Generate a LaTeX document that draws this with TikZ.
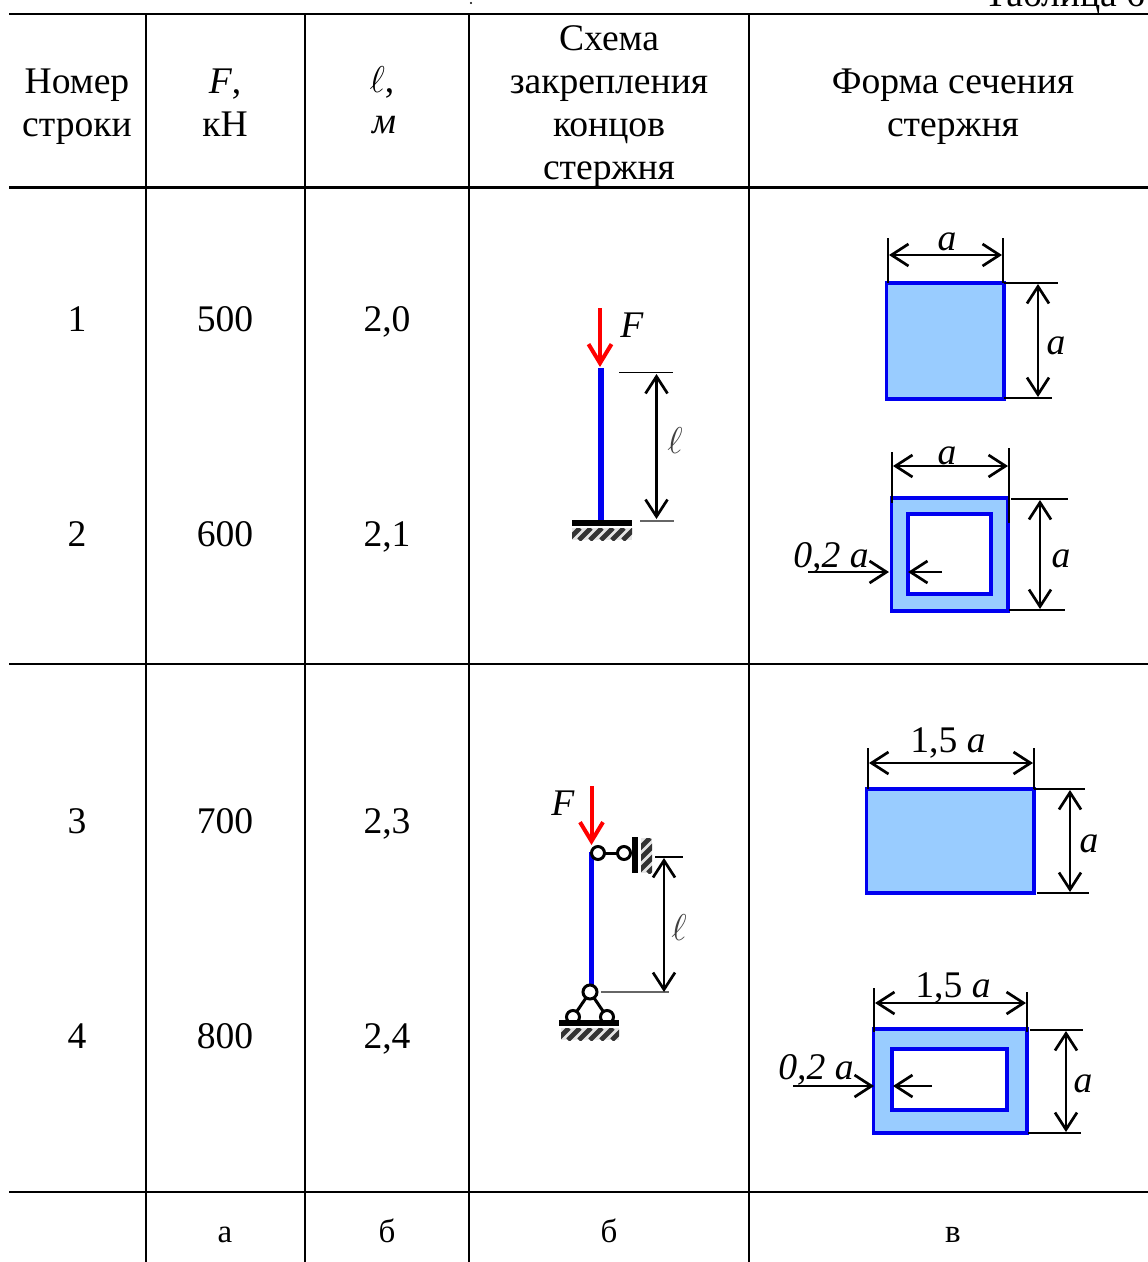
\documentclass[tikz,border=0pt]{standalone}
\usepackage{fontspec}
\setmainfont{Liberation Serif}
\usetikzlibrary{arrows.meta}
\definecolor{secfill}{HTML}{99CCFF}
\definecolor{barblue}{HTML}{0000F0}
\definecolor{forcered}{HTML}{FF0000}
\tikzset{
  x=1pt,y=-1pt,
  txt/.style={anchor=base,inner sep=0pt,outer sep=0pt,font=\fontsize{37.6}{44}\selectfont},
  grid/.style={line width=2.2pt,black},
  dima/.style={line width=2.7pt,black,{Straight Barb[length=17pt,width=22pt]}-{Straight Barb[length=17pt,width=22pt]}},
  onea/.style={line width=2.7pt,black,-{Straight Barb[length=17pt,width=22pt]}},
  ext/.style={line width=1.6pt,black},
  extg/.style={line width=1.4pt,black!60},
  force/.style={line width=4pt,forcered,-{Straight Barb[length=19pt,width=23pt]}},
  bar/.style={line width=6pt,barblue},
  sec/.style={draw=barblue,line width=3.5pt,fill=secfill},
  hole/.style={draw=barblue,line width=4pt,fill=white},
  pin/.style={circle,draw=black,line width=3pt,fill=white,minimum size=14pt,inner sep=0pt},
  lnk/.style={line width=3pt,black},
  ellmark/.style={txt,text=black!75},
}
\newcommand{\hatchbox}[4]{%
  \begin{scope}
    \clip (#1,#2) rectangle (#3,#4);
    \fill[black!10] (#1,#2) rectangle (#3,#4);
    \foreach \k in {-48,-37,...,84}{
      \draw[line width=4.8pt,black!80] ({#1+\k},#4) -- ({#1+\k+(#4-#2)},#2);
    }
  \end{scope}}
\begin{document}
\begin{tikzpicture}
\useasboundingbox (0,0) rectangle (1148,1262);
\clip (0,0) rectangle (1148,1262);
% grid
\draw[grid,line width=2.6pt] (9,14) -- (1148,14);
\draw[grid] (9,187.5) -- (1148,187.5);
\draw[grid] (9,664) -- (1148,664);
\draw[grid] (9,1192) -- (1148,1192);
\foreach \x in {146,305,469,749}{\draw[grid] (\x,14) -- (\x,1262);}
\fill (471,3) circle (1.2pt);
% title
\node[txt,anchor=base east] (title) at (1145,6) {Таблица 6};
% header
\node[txt] (h1a) at (77,93) {Номер};
\node[txt] (h1b) at (77,136) {строки};
\node[txt] (h2a) at (225,93) {\textit{F},};
\node[txt] (h2b) at (225,136) {кН};
\node[txt] (h3a) at (382,92) {\scalebox{1.5}{$\ell$},};
\node[txt] (h3b) at (384,133) {\textit{м}};
\node[txt] (h4a) at (609,50) {Схема};
\node[txt] (h4b) at (609,93) {закрепления};
\node[txt] (h4c) at (609,136) {концов};
\node[txt] (h4d) at (609,179) {стержня};
\node[txt] (h5a) at (953,93) {Форма сечения};
\node[txt] (h5b) at (953,136) {стержня};
% rows
\node[txt] (n1) at (77,331) {1};
\node[txt] (f1) at (225,331) {500};
\node[txt] (l1) at (387,331) {2,0};
\node[txt] (n2) at (77,546) {2};
\node[txt] (f2) at (225,546) {600};
\node[txt] (l2) at (387,546) {2,1};
\node[txt] (n3) at (77,833) {3};
\node[txt] (f3) at (225,833) {700};
\node[txt] (l3) at (387,833) {2,3};
\node[txt] (n4) at (77,1048) {4};
\node[txt] (f4) at (225,1048) {800};
\node[txt] (l4) at (387,1048) {2,4};
\node[txt,font=\fontsize{33}{40}\selectfont] (ba) at (225,1242) {а};
\node[txt,font=\fontsize{33}{40}\selectfont] (bb) at (387,1242) {б};
\node[txt,font=\fontsize{33}{40}\selectfont] (bc) at (609,1242) {б};
\node[txt,font=\fontsize{33}{40}\selectfont] (bd) at (953,1242) {в};
% scheme 1
\draw[bar] (601,368) -- (601,520);
\draw[force] (600,308) -- (600,367);
\fill[black] (572,520) rectangle (632,525.5);
\hatchbox{572}{528}{632}{540}
\node[txt] (F1) at (632,337) {\textit{F}};
\draw[ext] (619,372.5) -- (673,372.5);
\draw[extg] (640,521) -- (674,521);
\draw[dima] (656.5,374) -- (656.5,519);
\node[ellmark] (L1) at (675,453) {\scalebox{1.5}{$\ell$}};
% scheme 2
\draw[bar,line width=5.5pt] (591.5,852) -- (591.5,987);
\draw[force] (591.5,786) -- (591.5,845);
\draw[lnk] (598,853) -- (624,853);
\node[pin,minimum size=13pt] (p1) at (598,853) {};
\node[pin,minimum size=13pt] (p2) at (624,853) {};
\fill[black] (632,837) rectangle (637.5,873);
\hatchbox{641}{838}{652}{873}
\node[txt] (F2) at (563,815) {\textit{F}};
\draw[ext] (655,857) -- (683,857);
\draw[extg] (601,992) -- (669,992);
\draw[dima] (664,858) -- (664,992);
\node[ellmark] (L2) at (679,940) {\scalebox{1.5}{$\ell$}};
\draw[lnk] (590,992) -- (573,1017);
\draw[lnk] (590,992) -- (607,1017);
\node[pin] (p3) at (590,992) {};
\node[pin,minimum size=13pt] (p4) at (573,1017) {};
\node[pin,minimum size=13pt] (p5) at (607,1017) {};
\fill[black] (559,1020) rectangle (619,1026);
\hatchbox{561}{1028}{619}{1040}
% section 1
\draw[sec] (886.5,283) rectangle (1004,399);
\draw[ext] (888,238) -- (888,283);
\draw[ext] (1003,238) -- (1003,283);
\draw[dima] (889,255) -- (1002,255);
\node[txt] (a1) at (947,250) {\textit{a}};
\draw[ext] (1004,283) -- (1058,283);
\draw[ext] (1004,398) -- (1052,398);
\draw[dima] (1038,284) -- (1038,397);
\node[txt] (a2) at (1056,354) {\textit{a}};
% section 2
\draw[sec] (891.5,498) rectangle (1008,611);
\draw[hole] (907.5,514) rectangle (991,594);
\draw[ext] (892,452) -- (892,503);
\draw[ext] (1009,448) -- (1009,523);
\draw[dima] (893,466) -- (1008,466);
\node[txt] (a3) at (947,464) {\textit{a}};
\draw[ext] (1011,499) -- (1068,499);
\draw[ext] (1009,610) -- (1065,610);
\draw[dima] (1040,500) -- (1040,609);
\node[txt] (a4) at (1061,567) {\textit{a}};
\node[txt] (t1) at (831,567) {\textit{0,2 a}};
\draw[onea] (808,572) -- (889,572);
\draw[onea] (942,572) -- (908,572);
% section 3
\draw[sec] (866.5,789) rectangle (1034,893);
\draw[ext] (868,748) -- (868,789);
\draw[ext] (1034,748) -- (1034,789);
\draw[dima] (869,763) -- (1033,763);
\node[txt] (b1) at (948,752) {1,5 \textit{a}};
\draw[ext] (1034,789) -- (1085,789);
\draw[ext] (1037,893) -- (1089,893);
\draw[dima] (1070,790) -- (1070,892);
\node[txt] (a5) at (1089,852) {\textit{a}};
% section 4
\draw[sec] (873.5,1029) rectangle (1027,1133);
\draw[hole] (892,1049) rectangle (1007,1110);
\draw[ext] (874,988) -- (874,1032);
\draw[ext] (1027,992) -- (1027,1032);
\draw[dima] (875,1003) -- (1026,1003);
\node[txt] (b2) at (953,997) {1,5 \textit{a}};
\draw[ext] (1030,1030) -- (1083,1030);
\draw[ext] (1028,1133) -- (1081,1133);
\draw[dima] (1066,1031) -- (1066,1132);
\node[txt] (a6) at (1083,1092) {\textit{a}};
\node[txt] (t2) at (816,1079) {\textit{0,2 a}};
\draw[onea] (793,1086) -- (874,1086);
\draw[onea] (932,1086) -- (893,1086);
\end{tikzpicture}
\end{document}
